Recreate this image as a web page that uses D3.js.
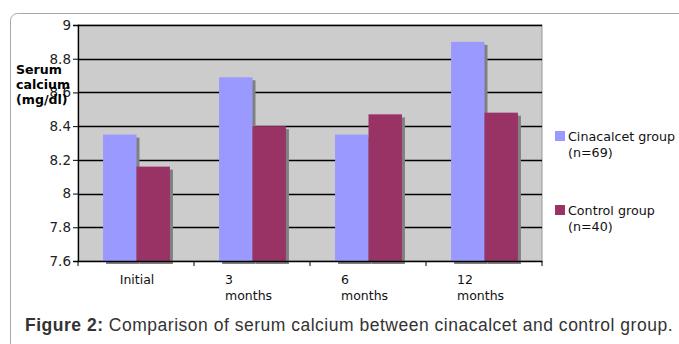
<!DOCTYPE html>
<html>
<head>
<meta charset="utf-8">
<script src="https://cdn.jsdelivr.net/npm/d3@7"></script>
<style>
  body { margin: 0; background: #fff; }
  svg { display: block; }
  .tick text { font-family: 'DejaVu Sans', Verdana, sans-serif; }
</style>
</head>
<body>
<svg id="chart" width="679" height="344"></svg>
<script>
const categories = ['Initial', '3 months', '6 months', '12 months'];
const cinacalcet = [8.35, 8.69, 8.35, 8.90];
const control = [8.16, 8.40, 8.47, 8.48];
const yTicks = [7.6, 7.8, 8, 8.2, 8.4, 8.6, 8.8, 9];
const seriesNames = [['Cinacalcet group', '(n=69)'], ['Control group', '(n=40)']];
const colors = ['#9999ff', '#993366'];

const svg = d3.select('#chart');

// outer frame
svg.append('rect')
  .attr('x', 10.5).attr('y', 13.5)
  .attr('width', 720).attr('height', 400)
  .attr('rx', 7)
  .attr('fill', 'none')
  .attr('stroke', '#a8a8a8');

const plotL = 78, plotR = 542, plotT = 25, plotB = 261;

const x = d3.scaleBand().domain(categories).range([plotL, plotR]);
const xInner = d3.scaleBand().domain([0, 1])
  .range([1, x.bandwidth()]).paddingInner(0).paddingOuter(0.72);
const y = d3.scaleLinear().domain([7.6, 9]).range([plotB, plotT]);

// plot background
svg.append('rect')
  .attr('x', plotL).attr('y', plotT)
  .attr('width', plotR - plotL).attr('height', plotB - plotT)
  .attr('fill', '#cccccc')
  .attr('stroke', '#999')
  .attr('stroke-width', 1);

// grid lines
svg.append('g')
  .selectAll('line')
  .data(yTicks.slice(1))
  .join('line')
  .attr('x1', plotL).attr('x2', plotR)
  .attr('y1', d => Math.round(y(d)) + 0.5)
  .attr('y2', d => Math.round(y(d)) + 0.5)
  .attr('stroke', '#000')
  .attr('stroke-width', 1.3);

const series = [cinacalcet, control];
const groups = svg.append('g');

series.forEach((vals, s) => {
  // shadows
  groups.append('g')
    .selectAll('rect')
    .data(vals)
    .join('rect')
    .attr('x', (d, i) => x(categories[i]) + xInner(s) + 3)
    .attr('y', d => y(d) + 3)
    .attr('width', xInner.bandwidth())
    .attr('height', d => plotB - y(d))
    .attr('fill', '#808080');
});
series.forEach((vals, s) => {
  groups.append('g')
    .selectAll('rect')
    .data(vals)
    .join('rect')
    .attr('x', (d, i) => x(categories[i]) + xInner(s))
    .attr('y', d => y(d))
    .attr('width', xInner.bandwidth())
    .attr('height', d => plotB - y(d))
    .attr('fill', colors[s]);
});

// y axis
const yAxis = svg.append('g')
  .attr('transform', `translate(${plotL},0)`)
  .call(d3.axisLeft(y).tickValues(yTicks).tickSize(5).tickFormat(d => d3.format('')(d)));
yAxis.select('.domain').attr('stroke', '#000').attr('stroke-width', 1.3);
yAxis.selectAll('.tick line').attr('stroke', '#000');
yAxis.selectAll('.tick text')
  .attr('font-size', 13.5).attr('fill', '#222').attr('x', -7);

// x axis
const xAxis = svg.append('g')
  .attr('transform', `translate(0,${plotB})`)
  .call(d3.axisBottom(x).tickSize(0).tickFormat(''));
xAxis.select('.domain').attr('stroke', '#000').attr('stroke-width', 1.3);
svg.append('g')
  .selectAll('line')
  .data(categories.concat(['end']))
  .join('line')
  .attr('x1', (d, i) => i < categories.length ? x(d) : plotR)
  .attr('x2', (d, i) => i < categories.length ? x(d) : plotR)
  .attr('y1', plotB).attr('y2', plotB + 5)
  .attr('stroke', '#000');

// category labels
const catLabels = svg.append('g')
  .attr('font-family', "'DejaVu Sans', Verdana, sans-serif")
  .attr('font-size', 12.5)
  .attr('fill', '#111');
categories.forEach(c => {
  const parts = c.split(' ');
  const multi = parts.length > 1;
  const lx = multi ? x(c) + x.bandwidth() / 2 - 27 : x(c) + x.bandwidth() / 2 + 1;
  const t = catLabels.append('text')
    .attr('y', 284)
    .attr('text-anchor', multi ? 'start' : 'middle');
  parts.forEach((p, i) => {
    t.append('tspan')
      .attr('x', lx)
      .attr('dy', i === 0 ? 0 : 15.5)
      .text(p);
  });
});

// y axis title
const yTitle = svg.append('text')
  .attr('font-family', "'DejaVu Sans', Verdana, sans-serif")
  .attr('font-size', 12.6)
  .attr('font-weight', 'bold')
  .attr('fill', '#000');
['Serum', 'calcium', '(mg/dl)'].forEach((p, i) => {
  yTitle.append('tspan').attr('x', 16).attr('y', 74 + i * 15).text(p);
});

// legend
const legend = svg.append('g')
  .attr('font-family', "'DejaVu Sans', Verdana, sans-serif")
  .attr('font-size', 12.7)
  .attr('fill', '#111');
const legendY = [131, 205];
seriesNames.forEach((n, i) => {
  legend.append('rect')
    .attr('x', 555).attr('y', legendY[i])
    .attr('width', 10).attr('height', 10)
    .attr('fill', colors[i]);
  const t = legend.append('text');
  n.forEach((p, j) => {
    t.append('tspan').attr('x', 568).attr('y', legendY[i] + 10 + j * 15.5).text(p);
  });
});

// caption
const cap = svg.append('text')
  .attr('x', 25).attr('y', 331)
  .attr('font-family', "'Liberation Sans', Arial, sans-serif")
  .attr('font-size', 17.5)
  .attr('fill', '#333');
cap.append('tspan').attr('font-weight', 'bold').text('Figure 2:');
cap.append('tspan').text(' Comparison of serum calcium between cinacalcet and control group.');
const capText = 'Figure 2: Comparison of serum calcium between cinacalcet and control group.';
const capLen = cap.node().getComputedTextLength();
cap.attr('letter-spacing', (648 - capLen) / capText.length);
</script>
</body>
</html>
